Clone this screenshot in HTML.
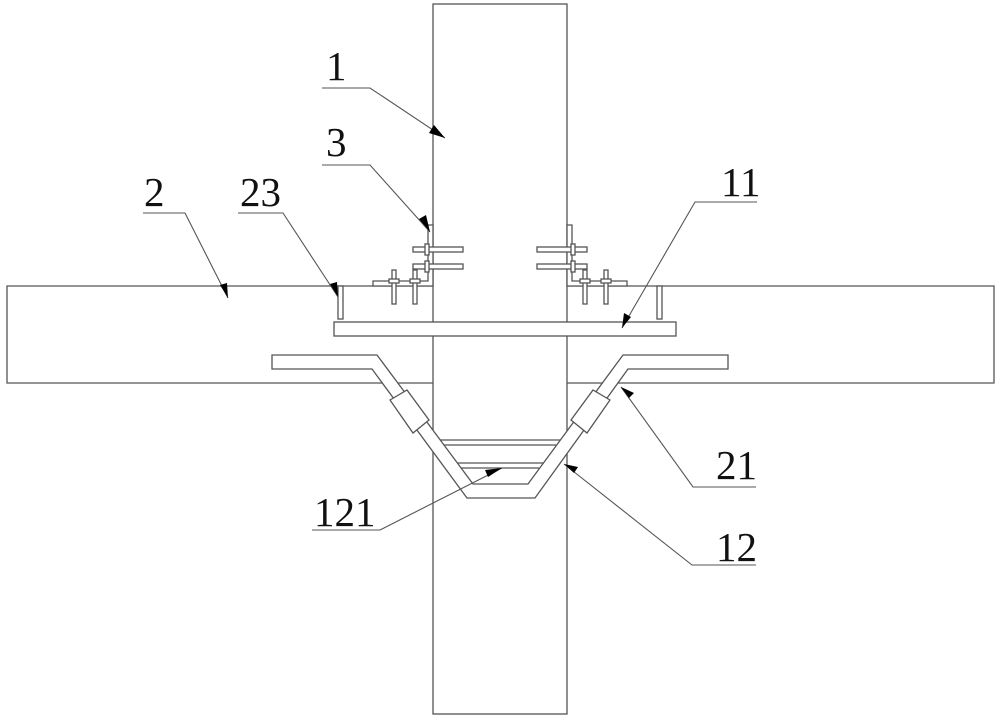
<!DOCTYPE html>
<html><head><meta charset="utf-8"><style>html,body{margin:0;padding:0;background:#fff}svg{display:block}</style></head>
<body>
<svg width="1000" height="719" viewBox="0 0 1000 719" xmlns="http://www.w3.org/2000/svg">
<defs>
<g id="half" fill="#fff" stroke="#555" stroke-width="1.3">
  <!-- angle bracket -->
  <path d="M428,225 L433,225 L433,286 L373,286 L373,281 L428,281 Z"/>
  <rect x="413" y="247" width="50" height="5"/>
  <rect x="413" y="264" width="50" height="5"/>
  <rect x="425" y="244" width="4" height="11"/>
  <rect x="425" y="261" width="4" height="11"/>
  <rect x="392" y="270" width="4" height="34"/>
  <rect x="413" y="270" width="4" height="34"/>
  <rect x="389" y="279" width="10" height="4"/>
  <rect x="410" y="279" width="10" height="4"/>
  <!-- fence 23 -->
  <rect x="338" y="286" width="5" height="33"/>
</g>
</defs>
<g fill="none" stroke="#555" stroke-width="1.3">
  <!-- column -->
  <rect x="433" y="4" width="134" height="710" fill="#fff"/>
  <!-- slabs -->
  <path d="M433,286 L7,286 L7,383 L433,383"/>
  <path d="M567,286 L994,286 L994,383 L567,383"/>
</g>
<use href="#half"/>
<use href="#half" transform="translate(1000,0) scale(-1,1)"/>
<g fill="#fff" stroke="#555" stroke-width="1.3">
  <rect x="334" y="322" width="342" height="14"/>
  <!-- inner lines 121 -->
  <line x1="440" y1="440" x2="560" y2="440"/>
  <line x1="444" y1="445" x2="556" y2="445"/>
  <line x1="457" y1="463" x2="543" y2="463"/>
  <line x1="461" y1="468" x2="539" y2="468"/>
  <!-- rebar -->
  <path d="M272,355 L377,355 L473,484 L528,484 L623,355 L728,355 L728,369 L628,369 L535,498 L467,498 L372,369 L272,369 Z"/>
  <!-- couplers -->
  <path d="M390,400 L407,390 L429,420 L413,433 Z"/>
  <path d="M610,400 L593,390 L571,420 L587,433 Z"/>
</g>
<!-- leaders -->
<g stroke="#555" stroke-width="1.1" fill="none">
  <polyline points="322,88 370,88 445,138"/>
  <polyline points="322,165 370,165 430,232"/>
  <polyline points="143,213 185,213 228,298"/>
  <polyline points="238,213 283,213 338,297"/>
  <polyline points="757,202 695,202 622,328"/>
  <polyline points="756,487 693,487 621,387"/>
  <polyline points="756,565 692,565 564,464"/>
  <polyline points="312,530 380,530 502,468"/>
</g>
<g fill="#000">
  <polygon points="445,138 429,133 434,125"/>
  <polygon points="430,232 419,219 426,215"/>
  <polygon points="228,298 220,285 227,283"/>
  <polygon points="338,297 330,284 337,282"/>
  <polygon points="622,328 624,313 631,317"/>
  <polygon points="621,387 634,393 629,398"/>
  <polygon points="564,464 578,467 574,473"/>
  <polygon points="502,468 488,477 485,470"/>
</g>
<g font-family="'Liberation Serif',serif" font-size="41" fill="#111">
  <text x="326" y="80">1</text>
  <text x="326" y="156">3</text>
  <text x="144" y="206">2</text>
  <text x="240" y="206">23</text>
  <text x="721" y="196">11</text>
  <text x="716" y="479">21</text>
  <text x="716" y="561">12</text>
  <text x="314" y="526">121</text>
</g>
</svg>
</body></html>
